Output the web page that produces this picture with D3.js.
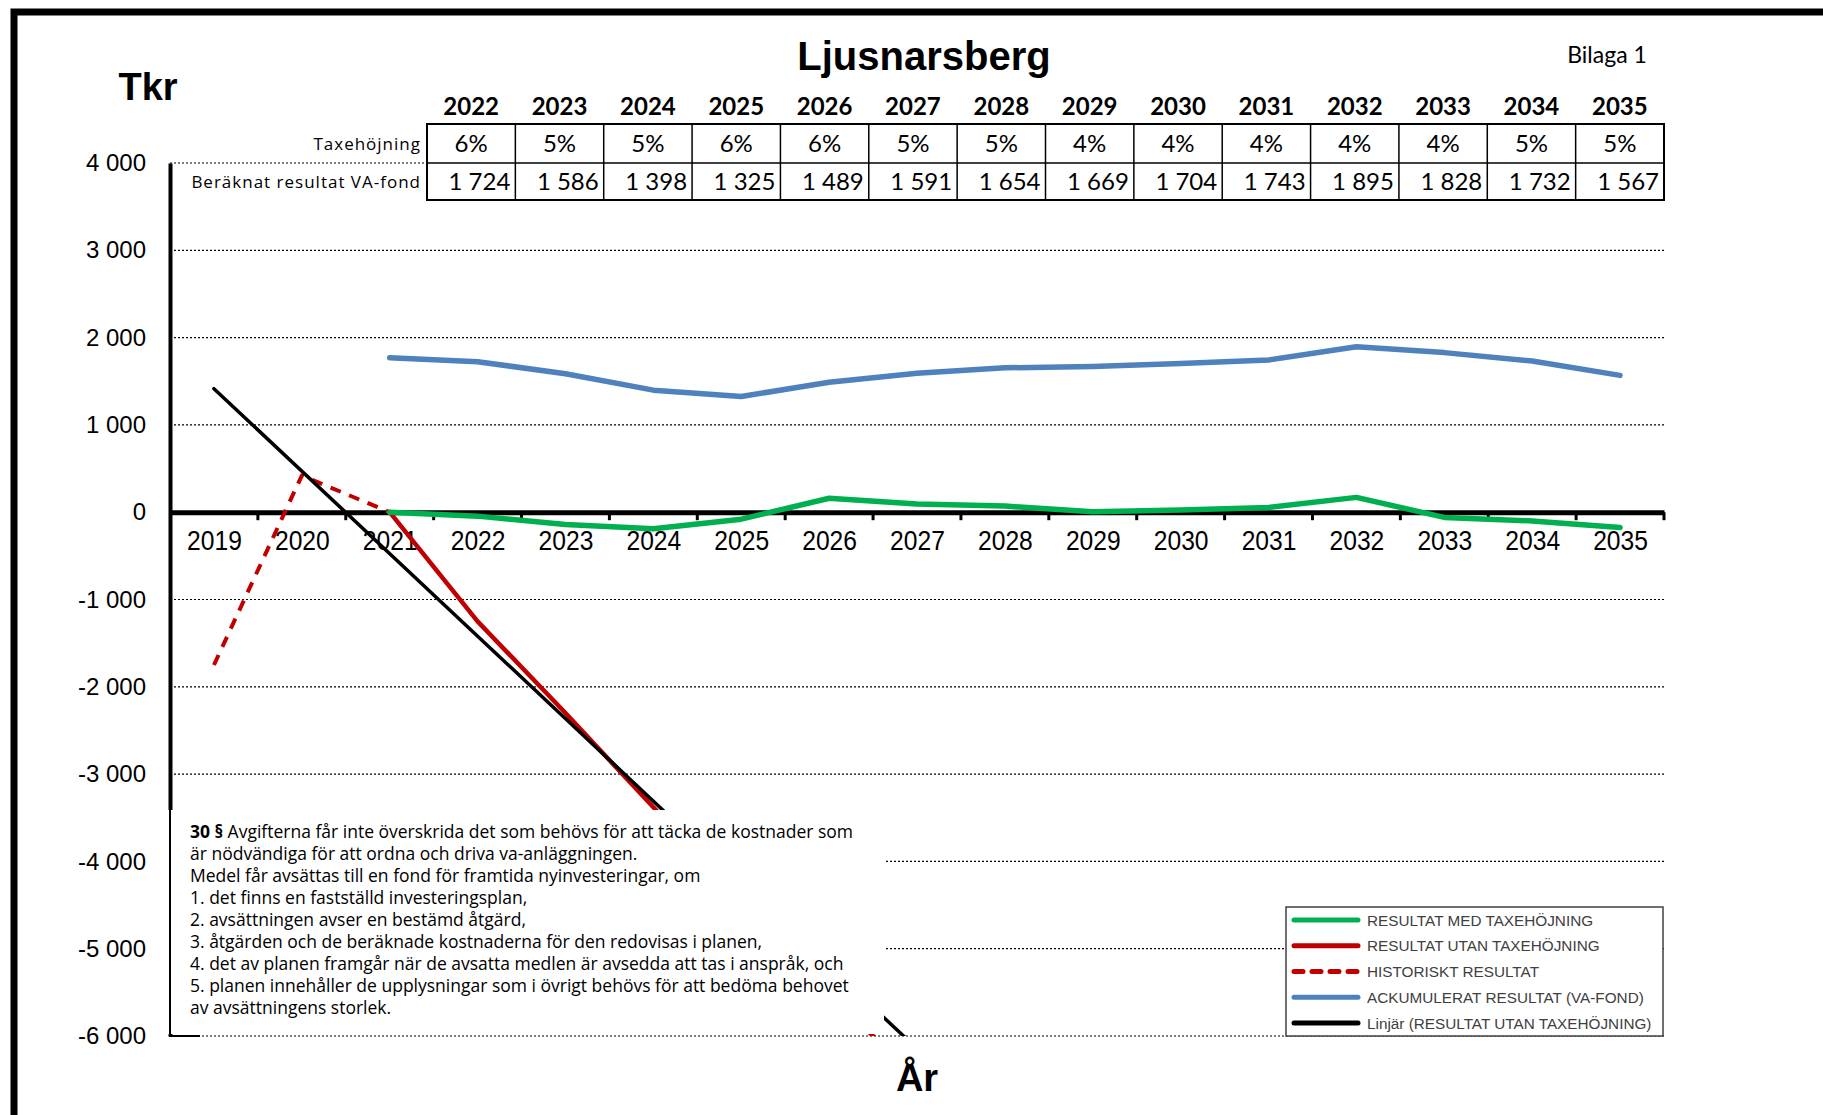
<!DOCTYPE html>
<html>
<head>
<meta charset="utf-8">
<script src="https://cdn.jsdelivr.net/npm/d3@7"></script>
<style>
  body { margin: 0; background: #fff; }
  svg { display: block; }
</style>
</head>
<body>
<div id="chart"></div>
<script>
// categories
const years = ["2019", "2020", "2021", "2022", "2023", "2024", "2025", "2026", "2027",
  "2028", "2029", "2030", "2031", "2032", "2033", "2034", "2035"];
const yTicks = [4000, 3000, 2000, 1000, 0, -1000, -2000, -3000, -4000, -5000, -6000];

// table above the chart
const tableYears = ["2022", "2023", "2024", "2025", "2026", "2027", "2028", "2029", "2030",
  "2031", "2032", "2033", "2034", "2035"];
const taxehojning = ["6%", "5%", "5%", "6%", "6%", "5%", "5%", "4%", "4%", "4%", "4%", "4%", "5%", "5%"];
const vaFond = [1724, 1586, 1398, 1325, 1489, 1591, 1654, 1669, 1704, 1743, 1895, 1828, 1732, 1567];

// series
const medYears = ["2021", "2022", "2023", "2024", "2025", "2026", "2027", "2028", "2029",
  "2030", "2031", "2032", "2033", "2034", "2035"];
const medTaxe = [0, -45, -140, -190, -80, 160, 95, 70, 5, 25, 55, 170, -60, -100, -175];
const ackumulerat = [1770, 1724, 1586, 1398, 1325, 1489, 1591, 1654, 1669, 1704, 1743, 1895, 1828, 1732, 1567];
const utanYears = ["2021", "2022", "2023", "2024", "2025", "2026", "2027"];
const utanTaxe = [0, -1250, -2300, -3380, -4450, -5500, -6500];
const histYears = ["2019", "2020", "2021"];
const historiskt = [-1750, 420, 0];
const trendYears = ["2019", "2027"];
const trend = [1415, -6145];

const legendItems = [
  { label: "RESULTAT MED TAXEHÖJNING", color: "#00b050", dash: null },
  { label: "RESULTAT UTAN TAXEHÖJNING", color: "#c00000", dash: null },
  { label: "HISTORISKT RESULTAT", color: "#c00000", dash: "9,9" },
  { label: "ACKUMULERAT RESULTAT (VA-FOND)", color: "#4f81bd", dash: null },
  { label: "Linjär (RESULTAT UTAN TAXEHÖJNING)", color: "#000", dash: null }
];

const noteLines = [
  "Avgifterna får inte överskrida det som behövs för att täcka de kostnader som",
  "är nödvändiga för att ordna och driva va-anläggningen.",
  "Medel får avsättas till en fond för framtida nyinvesteringar, om",
  "1. det finns en fastställd investeringsplan,",
  "2. avsättningen avser en bestämd åtgärd,",
  "3. åtgärden och de beräknade kostnaderna för den redovisas i planen,",
  "4. det av planen framgår när de avsatta medlen är avsedda att tas i anspråk, och",
  "5. planen innehåller de upplysningar som i övrigt behövs för att bedöma behovet",
  "av avsättningens storlek."
];

const width = 1823;
const height = 1115;
const plot = { left: 170, right: 1664, top: 163, bottom: 1036 };

const fmt = d3.formatLocale({ decimal: ",", thousands: "\u00a0", grouping: [3], currency: ["", ""], minus: "-" }).format(",");

const svg = d3.select("#chart").append("svg")
  .attr("width", width)
  .attr("height", height);

const x = d3.scalePoint().domain(years).range([plot.left, plot.right]).padding(0.5);
const xBand = d3.scaleBand().domain(years).range([plot.left, plot.right]);
const y = d3.scaleLinear().domain([-6000, 4000]).range([plot.bottom, plot.top]);

// outer frame
svg.append("path")
  .attr("d", `M14,${height} V12 H${width}`)
  .attr("fill", "none")
  .attr("stroke", "#000")
  .attr("stroke-width", 7);

// gridlines
svg.append("g")
  .selectAll("line")
  .data(yTicks.filter(d => d !== 0))
  .join("line")
  .attr("x1", plot.left)
  .attr("x2", plot.right)
  .attr("y1", d => y(d))
  .attr("y2", d => y(d))
  .attr("stroke", "#000")
  .attr("stroke-width", 1.2)
  .attr("stroke-dasharray", "2,2");

// y axis
const yAxis = svg.append("g")
  .attr("transform", `translate(${plot.left},0)`)
  .call(d3.axisLeft(y).tickValues(yTicks).tickFormat(fmt).tickSize(0).tickPadding(24));
yAxis.select(".domain").attr("stroke-width", 4);
yAxis.selectAll("text")
  .style("font-family", "'Liberation Sans', Arial, sans-serif")
  .style("font-size", "24px")
  .attr("fill", "#000");

// x axis
const xAxis = svg.append("g")
  .attr("transform", `translate(0,${y(0)})`)
  .call(d3.axisBottom(x).tickSize(0).tickPadding(18));
xAxis.select(".domain").attr("stroke-width", 5);
xAxis.selectAll("text")
  .style("font-family", "'Liberation Sans', Arial, sans-serif")
  .style("font-size", "28px")
  .attr("transform", "scale(0.88,1)")
  .attr("fill", "#000");
xAxis.selectAll("line.bound")
  .data(years.slice(1).map(d => xBand(d)).concat([plot.right]))
  .join("line")
  .attr("class", "bound")
  .attr("x1", d => d)
  .attr("x2", d => d)
  .attr("y1", 0)
  .attr("y2", 8)
  .attr("stroke", "#000")
  .attr("stroke-width", 3);

// series
svg.append("clipPath").attr("id", "plotclip")
  .append("rect")
  .attr("x", plot.left)
  .attr("y", plot.top)
  .attr("width", plot.right - plot.left)
  .attr("height", plot.bottom - plot.top);

const line = d3.line().x(d => x(d[0])).y(d => y(d[1]));
const lines = svg.append("g").attr("clip-path", "url(#plotclip)");

function drawSeries(ys, vals, color, w, dash) {
  lines.append("path")
    .datum(d3.zip(ys, vals))
    .attr("d", line)
    .attr("fill", "none")
    .attr("stroke", color)
    .attr("stroke-width", w)
    .attr("stroke-linejoin", "round")
    .attr("stroke-linecap", dash ? "butt" : "round")
    .attr("stroke-dasharray", dash);
}
drawSeries(histYears, historiskt, "#c00000", 4, "11,9");
drawSeries(utanYears, utanTaxe, "#c00000", 4.5, null);
drawSeries(trendYears, trend, "#000", 3.5, null);
drawSeries(medYears, ackumulerat, "#4f81bd", 5.5, null);
drawSeries(medYears, medTaxe, "#00b050", 5.5, null);

// note box (covers lower left of the plot)
const box = { x0: 166, x1: 884, y0: 810, y1: 1034 };
svg.append("rect")
  .attr("x", box.x0)
  .attr("y", box.y0)
  .attr("width", box.x1 - box.x0)
  .attr("height", box.y1 - box.y0)
  .attr("fill", "#fff");
svg.append("path")
  .attr("d", `M${plot.left},${box.y0} V${plot.bottom} H${plot.left + 30}`)
  .attr("fill", "none")
  .attr("stroke", "#000")
  .attr("stroke-width", 2);

const note = svg.append("text")
  .attr("x", 190)
  .attr("y", 838)
  .style("font-family", "'Open Sans', sans-serif")
  .style("font-size", "17.5px")
  .attr("fill", "#000");
noteLines.forEach((t, i) => {
  const ts = note.append("tspan")
    .attr("x", 190)
    .attr("dy", i === 0 ? 0 : 22);
  if (i === 0) {
    ts.append("tspan").attr("font-weight", "bold").text("30 § ");
    ts.append("tspan").text(t);
  } else {
    ts.text(t);
  }
});

// legend
const lg = { x: 1286, y: 907, w: 377, h: 129 };
svg.append("rect")
  .attr("x", lg.x)
  .attr("y", lg.y)
  .attr("width", lg.w)
  .attr("height", lg.h)
  .attr("fill", "#fff")
  .attr("stroke", "#404040")
  .attr("stroke-width", 1.5);
const legendRow = d3.scalePoint().domain(legendItems.map(d => d.label)).range([lg.y + 13, lg.y + 116]);
const lgItem = svg.append("g").selectAll("g")
  .data(legendItems)
  .join("g")
  .attr("transform", d => `translate(${lg.x},${legendRow(d.label)})`);
lgItem.append("line")
  .attr("x1", 8)
  .attr("x2", 72)
  .attr("stroke", d => d.color)
  .attr("stroke-width", 5)
  .attr("stroke-linecap", "round")
  .attr("stroke-dasharray", d => d.dash);
lgItem.append("text")
  .attr("x", 81)
  .attr("dy", "0.36em")
  .style("font-family", "'Liberation Sans', Arial, sans-serif")
  .style("font-size", "15.3px")
  .attr("fill", "#404040")
  .text(d => d.label);

// table
const tx = d3.scaleBand().domain(tableYears).range([427, 1664]);
const rowTop = 124, rowMid = 163, rowBot = 200;
svg.append("g").selectAll("text")
  .data(tableYears)
  .join("text")
  .attr("x", d => tx(d) + tx.bandwidth() / 2)
  .attr("y", 107)
  .attr("dy", "0.35em")
  .attr("text-anchor", "middle")
  .style("font-family", "Lato, sans-serif")
  .style("font-weight", "bold")
  .style("font-size", "24px")
  .text(d => d);

const cells = svg.append("g");
cells.append("rect")
  .attr("x", tx.range()[0])
  .attr("y", rowTop)
  .attr("width", tx.range()[1] - tx.range()[0])
  .attr("height", rowBot - rowTop)
  .attr("fill", "#fff")
  .attr("stroke", "#000")
  .attr("stroke-width", 2);
cells.append("line")
  .attr("x1", tx.range()[0]).attr("x2", tx.range()[1])
  .attr("y1", rowMid).attr("y2", rowMid)
  .attr("stroke", "#000").attr("stroke-width", 1.5);
cells.selectAll("line.col")
  .data(tableYears.slice(1))
  .join("line")
  .attr("class", "col")
  .attr("x1", d => tx(d)).attr("x2", d => tx(d))
  .attr("y1", rowTop).attr("y2", rowBot)
  .attr("stroke", "#000").attr("stroke-width", 1.5);
cells.selectAll("text.pct")
  .data(d3.zip(tableYears, taxehojning))
  .join("text")
  .attr("class", "pct")
  .attr("x", d => tx(d[0]) + tx.bandwidth() / 2)
  .attr("y", (rowTop + rowMid) / 2)
  .attr("dy", "0.36em")
  .attr("text-anchor", "middle")
  .style("font-family", "Lato, sans-serif")
  .style("font-size", "24px")
  .text(d => d[1]);
cells.selectAll("text.val")
  .data(d3.zip(tableYears, vaFond))
  .join("text")
  .attr("class", "val")
  .attr("x", d => tx(d[0]) + tx.bandwidth() - 5)
  .attr("y", (rowMid + rowBot) / 2)
  .attr("dy", "0.36em")
  .attr("text-anchor", "end")
  .style("font-family", "Lato, sans-serif")
  .style("font-size", "24px")
  .text(d => fmt(d[1]));

svg.append("g").selectAll("text")
  .data([["Taxehöjning", (rowTop + rowMid) / 2], ["Beräknat resultat VA-fond", (rowMid + rowBot) / 2]])
  .join("text")
  .attr("x", 421)
  .attr("y", d => d[1])
  .attr("dy", "0.36em")
  .attr("text-anchor", "end")
  .style("font-family", "'Open Sans', sans-serif")
  .style("font-size", "17px")
  .style("letter-spacing", "1px")
  .text(d => d[0]);

// titles
svg.append("text")
  .attr("x", 924).attr("y", 56).attr("dy", "0.35em")
  .attr("text-anchor", "middle")
  .style("font-family", "'Liberation Sans', Arial, sans-serif")
  .style("font-weight", "bold")
  .style("font-size", "40px")
  .text("Ljusnarsberg");
svg.append("text")
  .attr("x", 1607).attr("y", 55).attr("dy", "0.35em")
  .attr("text-anchor", "middle")
  .style("font-family", "Lato, sans-serif")
  .style("font-size", "23px")
  .text("Bilaga 1");
svg.append("text")
  .attr("x", 148).attr("y", 87).attr("dy", "0.35em")
  .attr("text-anchor", "middle")
  .style("font-family", "'Liberation Sans', Arial, sans-serif")
  .style("font-weight", "bold")
  .style("font-size", "38px")
  .text("Tkr");
svg.append("text")
  .attr("x", 917).attr("y", 1078).attr("dy", "0.35em")
  .attr("text-anchor", "middle")
  .style("font-family", "'Liberation Sans', Arial, sans-serif")
  .style("font-weight", "bold")
  .style("font-size", "38px")
  .text("År");
</script>
</body>
</html>
